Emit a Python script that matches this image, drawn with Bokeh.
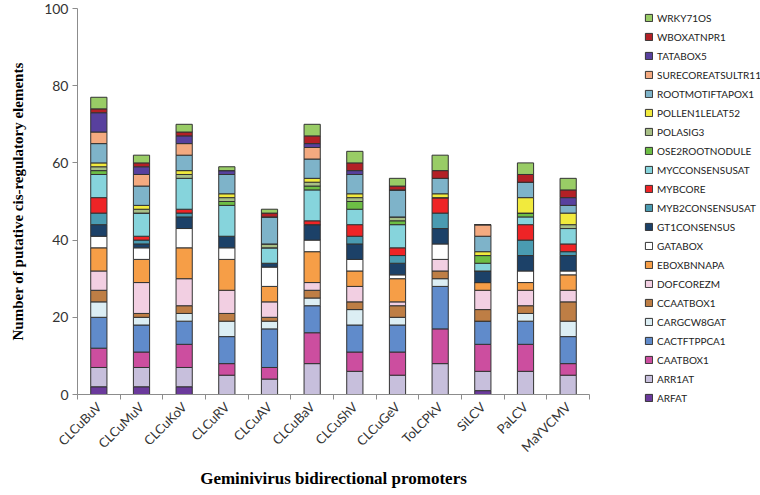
from math import pi
from bokeh.plotting import figure
from bokeh.models import ColumnDataSource, FixedTicker, Legend, LegendItem, Range1d
from bokeh.embed import file_html
from bokeh.resources import INLINE

promoters = ["CLCuBuV", "CLCuMuV", "CLCuKoV", "CLCuRV", "CLCuAV", "CLCuBaV",
             "CLCuShV", "CLCuGeV", "ToLCPkV", "SiLCV", "PaLCV", "MaYVCMV"]

ARFAT = [2, 2, 2, 0, 0, 0, 0, 0, 0, 1, 0, 0]
ARR1AT = [5, 5, 5, 5, 4, 8, 6, 5, 8, 5, 6, 5]
CAATBOX1 = [5, 4, 6, 3, 3, 8, 5, 6, 9, 7, 7, 3]
CACTFTPPCA1 = [8, 7, 6, 7, 10, 7, 7, 7, 11, 6, 6, 7]
CARGCW8GAT = [4, 2, 2, 4, 2, 2, 4, 2, 2, 0, 2, 4]
CCAATBOX1 = [3, 1, 2, 2, 1, 2, 2, 3, 2, 3, 2, 5]
DOFCOREZM = [5, 8, 7, 6, 4, 2, 4, 1, 3, 5, 4, 3]
EBOXBNNAPA = [6, 6, 8, 8, 4, 8, 4, 6, 0, 2, 2, 4]
GATABOX = [3, 3, 5, 3, 5, 3, 3, 1, 4, 0, 3, 1]
GT1CONSENSUS = [3, 1, 3, 3, 1, 4, 4, 3, 4, 3, 4, 4]
MYB2CONSENSUSAT = [3, 1, 1, 0, 0, 0, 2, 2, 4, 0, 4, 1]
MYBCORE = [4, 1, 1, 0, 0, 1, 3, 2, 4, 0, 4, 2]
MYCCONSENSUSAT = [6, 6, 8, 8, 4, 8, 4, 6, 0, 2, 2, 4]
OSE2ROOTNODULE = [1, 0, 0, 1, 0, 1, 2, 1, 0, 2, 1, 0]
POLASIG3 = [1, 1, 1, 1, 1, 1, 1, 1, 0, 0, 0, 1]
POLLEN1LELAT52 = [1, 1, 1, 1, 0, 1, 1, 0, 1, 1, 4, 3]
ROOTMOTIFTAPOX1 = [5, 5, 4, 5, 7, 5, 5, 7, 4, 4, 4, 2]
SURECOREATSULTR11 = [3, 3, 3, 0, 0, 3, 0, 0, 0, 3, 0, 0]
TATABOX5 = [5, 2, 2, 1, 0, 1, 1, 0, 0, 0, 0, 2]
WBOXATNPR1 = [1, 1, 1, 0, 1, 2, 2, 1, 2, 0, 2, 2]
WRKY71OS = [3, 2, 2, 1, 1, 3, 3, 2, 4, 0, 3, 3]

series = {
    "ARFAT": ARFAT, "ARR1AT": ARR1AT, "CAATBOX1": CAATBOX1,
    "CACTFTPPCA1": CACTFTPPCA1, "CARGCW8GAT": CARGCW8GAT, "CCAATBOX1": CCAATBOX1,
    "DOFCOREZM": DOFCOREZM, "EBOXBNNAPA": EBOXBNNAPA, "GATABOX": GATABOX,
    "GT1CONSENSUS": GT1CONSENSUS, "MYB2CONSENSUSAT": MYB2CONSENSUSAT,
    "MYBCORE": MYBCORE, "MYCCONSENSUSAT": MYCCONSENSUSAT,
    "OSE2ROOTNODULE": OSE2ROOTNODULE, "POLASIG3": POLASIG3,
    "POLLEN1LELAT52": POLLEN1LELAT52, "ROOTMOTIFTAPOX1": ROOTMOTIFTAPOX1,
    "SURECOREATSULTR11": SURECOREATSULTR11, "TATABOX5": TATABOX5,
    "WBOXATNPR1": WBOXATNPR1, "WRKY71OS": WRKY71OS,
}
colors = ["#6B3A9C", "#C7BFDC", "#CC4E9F", "#608BCB", "#DCEEF4", "#BE7E45",
          "#F2CFE2", "#F69E47", "#FFFFFF", "#1C4168", "#4A9BB1", "#EE2426",
          "#86D4DC", "#6DBE45", "#A8BF86", "#F1EA3D", "#7EB3C9", "#F4AA80",
          "#58409E", "#B32026", "#99CC66"]

names = list(series.keys())
data = {"x": [i + 0.5 for i in range(len(promoters))]}
data.update(series)
src = ColumnDataSource(data)

p = figure(frame_width=512, frame_height=386,
           x_range=Range1d(0, len(promoters)), y_range=Range1d(0, 100),
           output_backend="svg", toolbar_location=None,
           min_border_left=77, min_border_top=8, min_border_right=155,
           min_border_bottom=10)
p.outline_line_color = None
p.xgrid.grid_line_color = None
p.ygrid.grid_line_color = None

rs = p.vbar_stack(names, x="x", width=0.38, source=src, fill_color=colors,
                  line_color="#333333", line_width=1)

items = [LegendItem(label=n, renderers=[r]) for n, r in zip(names, rs)][::-1]
legend = Legend(items=items, location=(55, -13))
legend.padding = 0
legend.margin = 0
legend.spacing = 0
legend.border_line_color = None
legend.background_fill_alpha = 0
legend.glyph_width = 9
legend.glyph_height = 9
legend.label_height = 19
legend.label_standoff = 4
legend.label_text_font = "Lato"
legend.label_text_font_size = "10px"
legend.label_text_color = "#222222"
p.add_layout(legend, "right")

ya = p.yaxis[0]
ya.ticker = FixedTicker(ticks=[0, 20, 40, 60, 80, 100])
ya.axis_line_color = "#8c8c8c"
ya.major_tick_line_color = "#8c8c8c"
ya.major_tick_in = 0
ya.major_tick_out = 5
ya.minor_tick_line_color = None
ya.major_label_text_font = "Lato"
ya.major_label_text_font_size = "14px"
ya.major_label_text_color = "#333333"
ya.major_label_standoff = 4
ya.axis_label = "Number of putative cis-regulatory elements"
ya.axis_label_text_font = "Liberation Serif"
ya.axis_label_text_font_style = "bold"
ya.axis_label_text_font_size = "15px"
ya.axis_label_text_color = "#000000"
ya.axis_label_standoff = 15

xa = p.xaxis[0]
xa.ticker = FixedTicker(ticks=[i + 0.5 for i in range(len(promoters))],
                        minor_ticks=list(range(len(promoters) + 1)))
xa.major_label_overrides = {i + 0.5: n for i, n in enumerate(promoters)}
xa.major_label_orientation = pi / 4
xa.axis_line_color = "#8c8c8c"
xa.major_tick_line_color = None
xa.minor_tick_line_color = "#8c8c8c"
xa.minor_tick_in = 0
xa.minor_tick_out = 5
xa.major_label_text_font = "Lato"
xa.major_label_text_font_size = "13px"
xa.major_label_text_color = "#333333"
xa.major_label_standoff = 4
xa.axis_label = "Geminivirus bidirectional promoters"
xa.axis_label_text_font = "Liberation Serif"
xa.axis_label_text_font_style = "bold"
xa.axis_label_text_font_size = "17px"
xa.axis_label_text_color = "#000000"
xa.axis_label_standoff = 6

open("out.html", "w").write(file_html(p, INLINE))
